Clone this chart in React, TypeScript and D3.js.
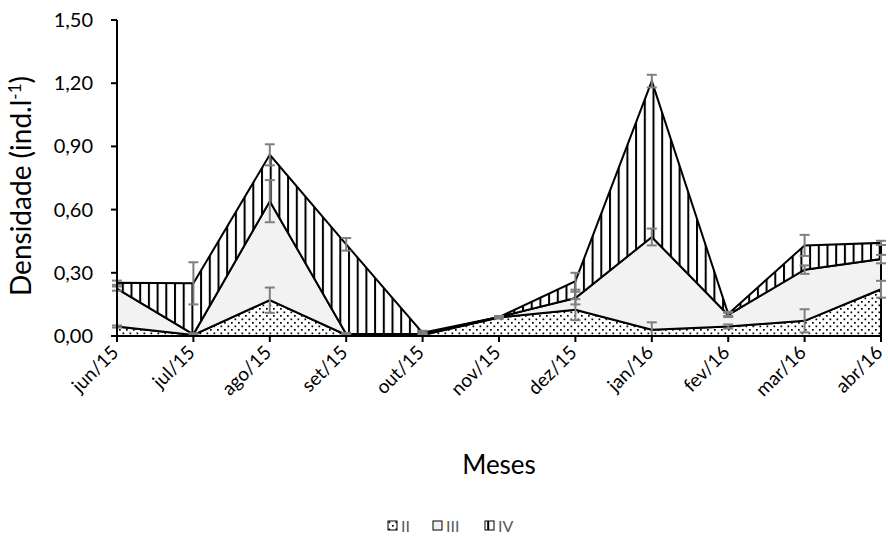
import React from "react";
import * as d3 from "d3";

const months = ["jun/15","jul/15","ago/15","set/15","out/15","nov/15","dez/15","jan/16","fev/16","mar/16","abr/16"];
const seriesNames = ["II","III","IV"];
const valuesII = [0.045,0.005,0.17,0.005,0.005,0.088,0.125,0.03,0.045,0.072,0.222];
const valuesIII = [0.18,0.003,0.47,0.005,0.005,0.002,0.055,0.44,0.055,0.243,0.143];
const valuesIV = [0.028,0.242,0.22,0.425,0.005,0.0,0.08,0.74,0.005,0.115,0.077];
const errII = [0.005,0.005,0.06,0.005,0.005,0.005,0.05,0.035,0.01,0.055,0.04];
const errIII = [0.01,0.005,0.1,0.005,0.005,0.005,0.03,0.04,0.01,0.02,0.02];
const errIV = [0.01,0.1,0.05,0.03,0.01,0.005,0.04,0.03,0.01,0.05,0.01];
const yTicks = [0,0.3,0.6,0.9,1.2,1.5];

const W = 888, H = 541;
const L = 117, R = 881, T = 20, B = 336;
const font = "Lato, 'Open Sans', sans-serif";

export default function App() {
  const rows = months.map((m, i) => ({ m, II: valuesII[i], III: valuesIII[i], IV: valuesIV[i] }));
  const stack = d3.stack<any>().keys(seriesNames)(rows);
  const errs = [errII, errIII, errIV];
  const x = d3.scalePoint<string>().domain(months).range([L, R]);
  const y = d3.scaleLinear().domain([0, 1.5]).range([B, T]);
  const area = d3.area<any>().x((d) => x(d.data.m)!).y0((d) => y(d[0])).y1((d) => y(d[1]));
  const fills = ["url(#dots)", "#f2f2f2", "url(#vhatch)"];
  const fmt = (v: number) => v.toFixed(2).replace(".", ",");

  return (
    <svg width={W} height={H} style={{ position: "absolute", left: 0, top: 0, background: "#fff" }}>
      <defs>
        <pattern id="dots" patternUnits="userSpaceOnUse" width="7" height="7">
          <rect width="7" height="7" fill="#fff" />
          <rect x="0" y="0" width="1.7" height="1.7" fill="#000" />
          <rect x="3.5" y="3.5" width="1.7" height="1.7" fill="#000" />
        </pattern>
        <pattern id="vhatch" patternUnits="userSpaceOnUse" width="8.7" height="10">
          <rect width="8.7" height="10" fill="#fff" />
          <rect x="0" y="0" width="2" height="10" fill="#000" />
        </pattern>
      </defs>
      {stack.map((s, i) => (
        <path key={s.key} d={area(s as any)!} fill={fills[i]} stroke="#000" strokeWidth={2} strokeLinejoin="miter" />
      ))}
      {stack.map((s, i) => (
        <g key={"e" + s.key} stroke="#7f7f7f" strokeWidth={2}>
          {s.map((d: any, j: number) => {
            const cx = x(d.data.m)!;
            const top = y(d[1] + errs[i][j]);
            const bot = y(Math.max(0, d[1] - errs[i][j]));
            return (
              <g key={j}>
                <line x1={cx} x2={cx} y1={top} y2={bot} />
                <line x1={cx - 5} x2={cx + 5} y1={top} y2={top} />
                <line x1={cx - 5} x2={cx + 5} y1={bot} y2={bot} />
              </g>
            );
          })}
        </g>
      ))}
      {/* axes */}
      <line x1={L} x2={L} y1={T} y2={B} stroke="#000" strokeWidth={2} />
      <line x1={L} x2={R} y1={B} y2={B} stroke="#000" strokeWidth={2} />
      {yTicks.map((t) => (
        <g key={t}>
          <line x1={L - 6} x2={L} y1={y(t)} y2={y(t)} stroke="#000" strokeWidth={2} />
          <text x={L - 24} y={y(t)} dy="0.35em" textAnchor="end" fontFamily={font} fontSize={20} fill="#000">{fmt(t)}</text>
        </g>
      ))}
      {months.map((m) => (
        <g key={m}>
          <line x1={x(m)!} x2={x(m)!} y1={B} y2={B + 6} stroke="#000" strokeWidth={2} />
          <text transform={`translate(${x(m)! - 2},${B + 13}) rotate(-45)`} textAnchor="end" dy="0.35em" fontFamily={font} fontSize={19} fill="#000">{m}</text>
        </g>
      ))}
      <text transform={`translate(31,${(T + B) / 2 + 8}) rotate(-90)`} textAnchor="middle" fontFamily={font} fontSize={28} fill="#000">
        Densidade (ind.l<tspan dy="-10" fontSize={17}>-1</tspan><tspan dy="10">)</tspan>
      </text>
      <text x={(L + R) / 2} y={474} textAnchor="middle" fontFamily={font} fontSize={26} fill="#000">Meses</text>
      {/* legend */}
      {seriesNames.map((n, i) => {
        const lx = [388, 433, 485][i];
        return (
          <g key={n}>
            <rect x={lx} y={521} width={9} height={9} fill={fills[i]} stroke="#000" strokeWidth={1} />
            <text x={lx + 13} y={526} dy="0.35em" fontFamily={font} fontSize={16} fill="#595959">{n}</text>
          </g>
        );
      })}
    </svg>
  );
}
